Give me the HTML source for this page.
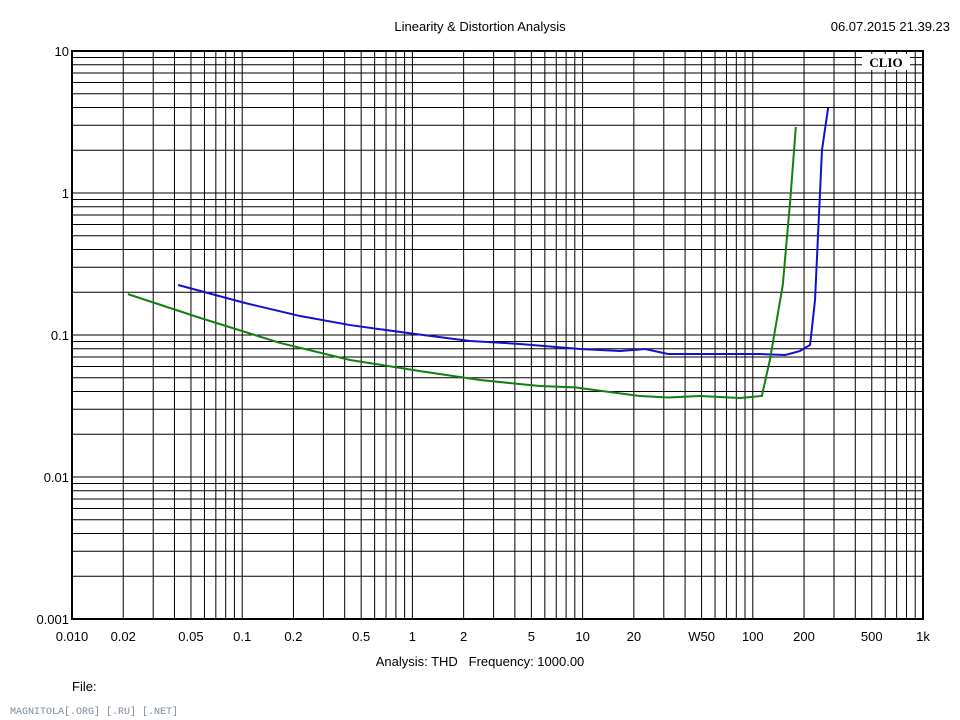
<!DOCTYPE html>
<html><head><meta charset="utf-8"><style>
body{margin:0;background:#fff;}
svg{display:block;font-family:"Liberation Sans",sans-serif;}
</style></head><body>
<svg id="chart" width="960" height="720">
<text x="480" y="31" font-size="13" text-anchor="middle">Linearity &amp; Distortion Analysis</text>
<text x="950" y="31" font-size="13" text-anchor="end">06.07.2015 21.39.23</text>
<g id="grid"></g>
<g id="series"></g>
<g id="ylabels"></g>
<g id="xlabels"></g>
<rect x="862" y="54" width="48" height="16" fill="#fff"/>
<text x="886" y="67" font-size="13" font-weight="bold" font-family="Liberation Serif,serif" text-anchor="middle">CLIO</text>
<text x="480" y="666" font-size="13" text-anchor="middle" xml:space="preserve">Analysis: THD   Frequency: 1000.00</text>
<text x="72" y="691" font-size="13">File:</text>
<text x="10" y="714" font-size="10" fill="#7a8a9a" font-family="Liberation Mono,monospace">MAGNITOLA[.ORG] [.RU] [.NET]</text>
</svg>
<script>
const xTicks=[0.01,0.02,0.05,0.1,0.2,0.5,1,2,5,10,20,50,100,200,500,1000];
const xTickLabels=["0.010","0.02","0.05","0.1","0.2","0.5","1","2","5","10","20","W50","100","200","500","1k"];
const yTicks=[10,1,0.1,0.01,0.001];
const yTickLabels=["10","1","0.1","0.01","0.001"];
const blueX=[0.042,0.104,0.219,0.43,1.04,2.18,4.29,9.66,16.6,23.3,31.8,49,110,155,189,217,232,255,277];
const blueY=[0.225,0.168,0.136,0.1175,0.1016,0.0908,0.0865,0.0797,0.0771,0.0797,0.0735,0.0735,0.0735,0.0723,0.0771,0.0851,0.176,2.01,3.97];
const greenX=[0.0213,0.0565,0.167,0.43,1.11,2.5,5.6,9.0,21.7,31.8,49,84,113,126,150,166,179];
const greenY=[0.194,0.132,0.0879,0.0667,0.0557,0.0482,0.0437,0.0428,0.0372,0.0363,0.0372,0.036,0.0372,0.0667,0.225,0.893,2.92];
const L=72,R=923,T=51,B=619;
const sx=f=>L+(Math.log10(f)+2)/5*(R-L);
const sy=v=>T+(1-Math.log10(v))/4*(B-T);
const NS="http://www.w3.org/2000/svg";
function mk(tag,attrs,parent){const e=document.createElementNS(NS,tag);for(const k in attrs)e.setAttribute(k,attrs[k]);parent.appendChild(e);return e;}
const grid=document.getElementById('grid');
for(let d=-2;d<3;d++)for(let m=1;m<10;m++){const x=sx(m*Math.pow(10,d));
 const l=mk('line',{x1:x,x2:x,y1:T,y2:B,stroke:'#000','stroke-width':1},grid);
 
 }
for(let d=-3;d<1;d++)for(let m=1;m<10;m++){const y=sy(m*Math.pow(10,d));
 const l=mk('line',{x1:L,x2:R,y1:y,y2:y,stroke:'#000','stroke-width':1},grid);
 
 }
const fr=mk('rect',{x:L,y:T,width:R-L,height:B-T,fill:'none',stroke:'#000','stroke-width':2},grid);


const xl=document.getElementById('xlabels');
xTicks.forEach((t,i)=>{const e=mk('text',{x:sx(t),y:641,'font-size':13,'text-anchor':'middle'},xl);e.textContent=xTickLabels[i];
 
 });
const yl=document.getElementById('ylabels');
yTicks.forEach((t,i)=>{const e=mk('text',{x:69,y:sy(t)+5,'font-size':13,'text-anchor':'end'},yl);e.textContent=yTickLabels[i];
 
 });
const sg=document.getElementById('series');
function line(xs,ys,c,name){const p=mk('polyline',{points:xs.map((x,i)=>sx(x)+','+sy(ys[i])).join(' '),fill:'none',stroke:c,'stroke-width':2},sg);
 
 }
line(blueX,blueY,'#1010d0','thd-blue-series');
line(greenX,greenY,'#108010','thd-green-series');
</script>
</body></html>
